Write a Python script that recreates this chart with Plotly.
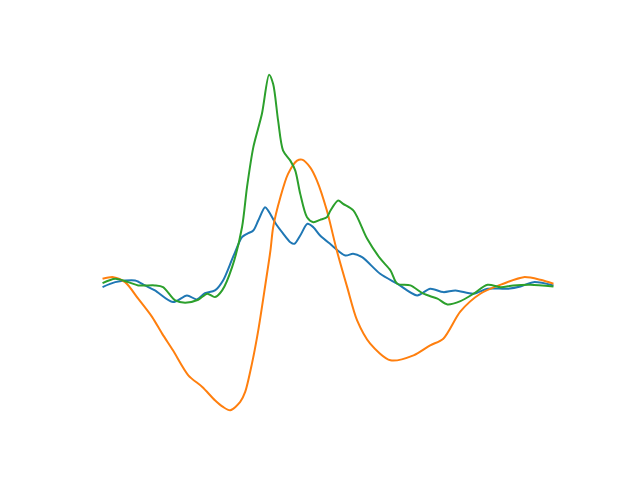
import plotly.graph_objects as go

# Series (x: sample position, y: signal value)
blue_x = [0, 2.8, 7.2, 9.4, 11.6, 15.6, 18.7, 20.9, 22.7, 24.9, 26.7, 28.9, 30.9, 32.0, 33.4, 34.5, 36.0, 36.7,
          38.5, 40.0, 41.6, 42.5, 43.8, 45.4, 46.7, 48.2, 50.4, 53.8, 55.5, 57.5, 61.5, 65.3, 69.7, 72.6,
          75.5, 78.2, 82.2, 85.3, 89.7, 92.6, 95.5, 99.9]
blue_y = [-0.17, 0.33, 0.5, 0.0, -0.5, -1.67, -1.0, -1.4, -0.77, -0.5, 0.5, 2.83, 4.83, 5.17, 5.5, 6.5, 7.83, 7.5,
          6.1, 5.2, 4.33, 4.17, 5.0, 6.17, 5.83, 5.0, 4.17, 3.0, 3.17, 2.83, 1.17, 0.17, -1.0, -0.33,
          -0.67, -0.5, -0.83, -0.33, -0.33, -0.1, 0.33, 0.0]

orange_x = [0, 2.4, 5.0, 7.9, 11.0, 13.2, 15.6, 19.0, 22.1, 24.9, 26.7, 28.3, 30.5, 31.6, 33.1, 34.5, 36.1, 37.2,
            37.8, 39.4, 41.1, 43.1, 44.2, 46.0, 47.5, 49.7, 51.9, 54.2, 56.4, 59.3, 63.8, 68.9, 72.6, 75.5,
            79.3, 83.7, 88.8, 93.3, 97.0, 99.9]
orange_y = [0.67, 0.83, 0.33, -1.33, -3.17, -4.83, -6.5, -9.0, -10.17, -11.5, -12.17, -12.5, -11.67, -10.67, -7.83,
            -4.5, 0.17, 3.5, 5.83, 8.83, 11.17, 12.5, 12.6, 11.83, 10.5, 7.5, 3.5, -0.17, -3.5, -5.83, -7.5,
            -7.0, -6.0, -5.33, -2.6, -0.83, 0.17, 0.83, 0.57, 0.17]

green_x = [0, 2.8, 5.7, 7.9, 11.6, 13.4, 16.1, 18.3, 21.2, 23.2, 24.9, 26.5, 28.7, 30.9, 32.0, 33.4, 35.3, 36.9,
           37.8, 38.9, 40.0, 41.6, 42.7, 43.8, 45.3, 46.7, 48.2, 49.7, 50.5, 52.2, 53.3, 55.6, 58.6, 61.5,
           63.8, 65.3, 68.2, 71.1, 74.2, 76.4, 79.3, 82.2, 85.3, 88.2, 91.0, 94.8, 99.9]
green_y = [0.23, 0.67, 0.33, 0.0, 0.0, -0.17, -1.5, -1.73, -1.43, -0.83, -1.17, -0.5, 1.83, 5.83, 9.83, 13.83,
           17.17, 21.1, 20.17, 16.5, 13.5, 12.5, 11.5, 9.17, 6.83, 6.33, 6.57, 6.83, 7.5, 8.5, 8.17, 7.5, 4.7,
           2.7, 1.5, 0.17, 0.0, -0.83, -1.33, -1.9, -1.57, -0.83, 0.07, -0.17, 0.0, 0.07, -0.1]

series = [(blue_x, blue_y, "#1f77b4"), (orange_x, orange_y, "#ff7f0e"), (green_x, green_y, "#2ca02c")]

fig = go.Figure()
for xs, ys, c in series:
    fig.add_trace(go.Scatter(x=xs, y=ys, mode="lines",
                             line=dict(color=c, width=2, shape="spline", smoothing=0.8),
                             showlegend=False, hoverinfo="skip"))

all_x = blue_x + orange_x + green_x
all_y = blue_y + orange_y + green_y
xmin, xmax = min(all_x), max(all_x)
ymin, ymax = min(all_y), max(all_y)
xp = (xmax - xmin) * 0.05
yp = (ymax - ymin) * 0.05

fig.update_layout(
    width=640, height=480,
    margin=dict(l=72, r=72, t=49.6, b=60.8),
    paper_bgcolor="white", plot_bgcolor="white",
    xaxis=dict(visible=False, range=[xmin - xp, xmax + xp]),
    yaxis=dict(visible=False, range=[ymin - yp, ymax + yp]),
)
fig.write_html("out.html", config={"displayModeBar": False})
